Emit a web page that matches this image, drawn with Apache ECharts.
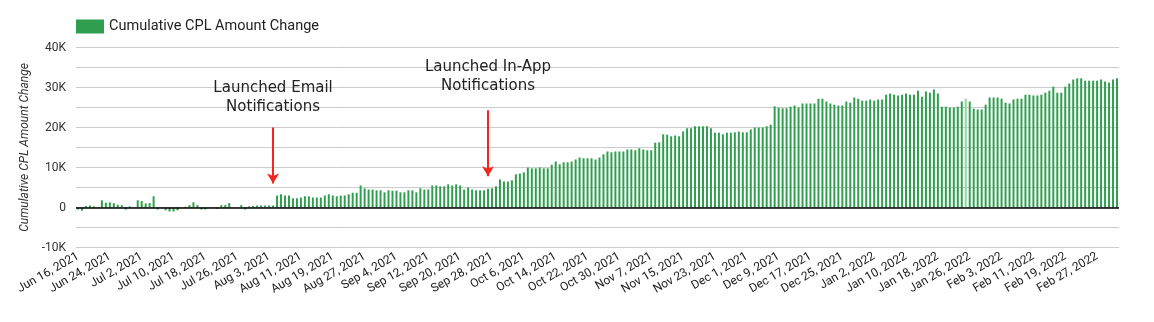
<!DOCTYPE html>
<html>
<head>
<meta charset="utf-8">
<script src="https://cdn.jsdelivr.net/npm/echarts@6/dist/echarts.min.js"></script>
<style>
  html, body { margin: 0; padding: 0; background: #fff; }
  #chart { width: 1154px; height: 322px; }
</style>
</head>
<body>
<div id="chart"></div>
<script>
// one bar per day, Jun 16 2021 .. Mar 4 2022
const startDay = Date.UTC(2021, 5, 16);
const dayCount = 262;
const monthNames = ['Jan', 'Feb', 'Mar', 'Apr', 'May', 'Jun', 'Jul', 'Aug', 'Sep', 'Oct', 'Nov', 'Dec'];
const days = [];
for (let i = 0; i < dayCount; i++) {
    let d = new Date(startDay + i * 86400000);
    days.push(monthNames[d.getUTCMonth()] + ' ' + d.getUTCDate() + ', ' + d.getUTCFullYear());
}

// Jun 16 - Aug 4
const valuesSummer = [
    -500, -800, 400, 500, 300, 0, 1800, 1200, 1300, 1100,
    700, 600, -500, 300, 0, 1800, 1600, 1000, 1100, 2800,
    -500, 0, -700, -1000, -1000, -700, 0, 200, 600, 1300,
    600, -500, -500, 0, 100, -300, 600, 600, 1100, 0,
    0, 600, -500, 300, 400, 500, 500, 500, 500, 500
];
// Aug 5 - Oct 9
const valuesAutumn = [
    3000, 3300, 3000, 3000, 2300, 2300, 2500, 2800, 2800, 2500,
    2500, 2500, 3000, 3300, 3000, 2800, 3000, 3000, 3300, 3700,
    3700, 5500, 4800, 4500, 4500, 4300, 4300, 3800, 4300, 4200,
    4200, 3800, 3800, 4300, 4300, 3800, 4800, 4500, 4500, 5500,
    5500, 5300, 5300, 5800, 5500, 5800, 5500, 4500, 5000, 4500,
    4300, 4300, 4300, 4700, 4800, 5300, 7000, 6500, 6500, 6800,
    8300, 8500, 8800, 10000, 9800, 9800
];
// Oct 10 - Dec 8
const valuesLateFall = [
    10000, 9800, 9800, 10700, 11500, 10800, 11300, 11300, 11500, 12000,
    12500, 12300, 12300, 12300, 12000, 12500, 13300, 14000, 13800, 14000,
    14000, 14000, 14500, 14500, 14300, 14800, 14500, 14300, 14300, 16200,
    16300, 18300, 18200, 17800, 18000, 17800, 19000, 19800, 19800, 20300,
    20300, 20300, 20300, 19800, 18700, 18700, 18300, 18700, 18700, 18800,
    19000, 18800, 18800, 19500, 20000, 20000, 20000, 20300, 20700, 25300
];
// Dec 9 - Mar 4
const valuesWinter = [
    25000, 24800, 24800, 25200, 25500, 25000, 26000, 26000, 26000, 26000,
    27200, 27200, 26500, 26000, 25700, 25500, 25500, 26500, 26200, 27500,
    27200, 26700, 26700, 27000, 26700, 27000, 27000, 28200, 28500, 28200,
    28000, 28200, 28500, 28200, 28200, 29200, 27700, 29000, 28700, 29500,
    28500, 25200, 25200, 25000, 25000, 25200, 26500, 27200, 26500, 24700,
    24500, 24500, 25700, 27500, 27500, 27500, 27200, 26200, 26000, 27000,
    27200, 27200, 28200, 28200, 28000, 28000, 28200, 28700, 29200, 30200,
    28700, 28700, 30200, 31000, 32000, 32300, 32300, 31700, 31700, 31700,
    31700, 32000, 31500, 31200, 32000, 32300
];
const cplChange = valuesSummer.concat(valuesAutumn, valuesLateFall, valuesWinter);

const hoveredDay = 223;
const barData = cplChange.map((v, i) => i === hoveredDay ? { value: v, itemStyle: { color: '#8fd3a0' } } : v);

// annotations: x index, text centre value, arrow start and tip values
const emailNote = { x: 48.6, textAt: 27400, from: 20000, to: 6000, text: 'Launched Email\nNotifications' };
const inAppNote = { x: 102.5, textAt: 32700, from: 24300, to: 7800, text: 'Launched In-App\nNotifications' };

const arrowStyle = { color: '#f4251f', width: 2, type: 'solid' };

let chart = echarts.init(document.getElementById('chart'));
let option = {
    animation: false,
    textStyle: { fontFamily: 'Roboto' },
    legend: {
        left: 76,
        top: 19,
        padding: 0,
        icon: 'rect',
        itemWidth: 28,
        itemHeight: 14,
        textStyle: { fontSize: 14.5, color: '#222', fontFamily: 'Roboto' },
        data: ['Cumulative CPL Amount Change']
    },
    grid: {
        left: 76,
        right: 35,
        top: 47.5,
        bottom: 74.5
    },
    xAxis: {
        type: 'category',
        data: days,
        axisLine: { show: false, onZero: false },
        axisTick: { show: false },
        splitLine: { show: false },
        axisLabel: {
            interval: 7,
            rotate: 30,
            margin: 8,
            fontSize: 12,
            color: '#222',
            fontFamily: 'Roboto'
        }
    },
    yAxis: {
        type: 'value',
        min: -10000,
        max: 40000,
        interval: 10000,
        name: 'Cumulative CPL Amount Change',
        nameLocation: 'middle',
        nameGap: 40,
        nameTextStyle: { fontSize: 12, fontStyle: 'italic', color: '#333', fontFamily: 'Roboto' },
        axisLine: { show: false },
        axisTick: { show: false },
        axisLabel: {
            margin: 10,
            fontSize: 12,
            color: '#333',
            fontFamily: 'Roboto',
            formatter: v => v === 0 ? '0' : (v / 1000) + 'K'
        },
        splitLine: { lineStyle: { color: '#cccccc', width: 1 } },
        minorTick: { show: false, splitNumber: 2 },
        minorSplitLine: { show: true, lineStyle: { color: '#cccccc', width: 1 } }
    },
    series: [
        {
            name: 'Cumulative CPL Amount Change',
            type: 'bar',
            data: barData,
            barCategoryGap: '50%',
            itemStyle: { color: '#2f9e4f' },
            markLine: {
                silent: true,
                animation: false,
                symbol: ['none', 'none'],
                label: { show: false },
                data: [
                    {
                        yAxis: 0,
                        lineStyle: { color: '#000', width: 1.5, type: 'solid' }
                    },
                    [
                        { coord: [emailNote.x, emailNote.from], symbol: 'none', lineStyle: arrowStyle },
                        { coord: [emailNote.x, emailNote.to], symbol: 'arrow', symbolSize: [9, 10] }
                    ],
                    [
                        { coord: [inAppNote.x, inAppNote.from], symbol: 'none', lineStyle: arrowStyle },
                        { coord: [inAppNote.x, inAppNote.to], symbol: 'arrow', symbolSize: [9, 10] }
                    ]
                ]
            },
            markPoint: {
                silent: true,
                animation: false,
                symbol: 'rect',
                symbolSize: 1,
                itemStyle: { color: 'rgba(0,0,0,0)' },
                label: {
                    show: true,
                    position: 'inside',
                    fontFamily: 'DejaVu Sans',
                    fontSize: 15,
                    lineHeight: 19,
                    color: '#222',
                    align: 'center',
                    formatter: p => p.data.text
                },
                data: [
                    { coord: [emailNote.x, emailNote.textAt], text: emailNote.text },
                    { coord: [inAppNote.x, inAppNote.textAt], text: inAppNote.text }
                ]
            }
        }
    ]
};
chart.setOption(option);
</script>
</body>
</html>
